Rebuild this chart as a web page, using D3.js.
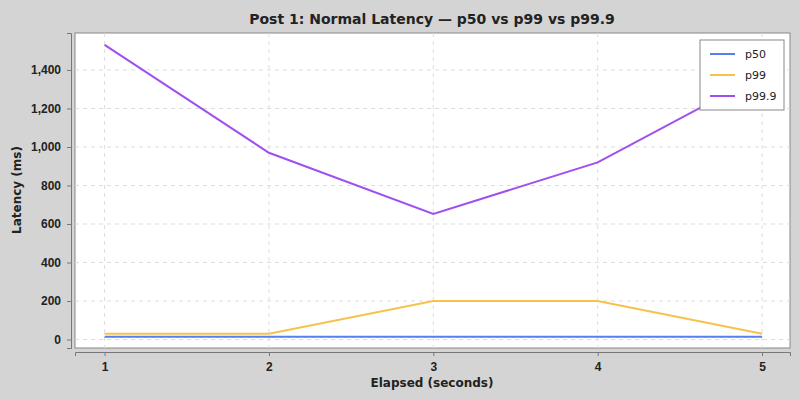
<!DOCTYPE html>
<html><head><meta charset="utf-8">
<script src="https://cdn.jsdelivr.net/npm/d3@7"></script>
<style>body{margin:0;background:#d4d4d4;font-family:"DejaVu Sans",sans-serif;}</style>
</head><body>
<svg width="800" height="400"></svg>
<script>
// data
var seconds = [1, 2, 3, 4, 5];
var p50 = [15, 15, 15, 15, 15];
var p99 = [30, 30, 200, 200, 30];
var p999 = [1530, 970, 652, 920, 1375];
var yTicks = [0, 200, 400, 600, 800, 1000, 1200, 1400];

var series = [
  {name: "p50", values: p50, color: "#5480ee"},
  {name: "p99", values: p99, color: "#f6c24e"},
  {name: "p99.9", values: p999, color: "#a04ff0"}
];

var svg = d3.select("svg");
var plotL = 75, plotR = 790, plotT = 33, plotB = 348;

var x = d3.scaleLinear().domain([0.82, 5.17]).range([plotL, plotR]);
var y = d3.scaleLinear().domain([-44, 1592]).range([plotB, plotT]);

svg.append("rect").attr("width", 800).attr("height", 400).attr("fill", "#d4d4d4");
svg.append("rect").attr("x", plotL).attr("y", plotT).attr("width", plotR - plotL).attr("height", plotB - plotT)
  .attr("fill", "#fff").attr("stroke", "#888");

// grid
svg.append("g").selectAll("line").data(yTicks).enter().append("line")
  .attr("x1", plotL).attr("x2", plotR).attr("y1", d => y(d)).attr("y2", d => y(d))
  .attr("stroke", "#ddd").attr("stroke-dasharray", "4,4");
svg.append("g").selectAll("line").data(seconds).enter().append("line")
  .attr("y1", plotT).attr("y2", plotB).attr("x1", d => x(d)).attr("x2", d => x(d))
  .attr("stroke", "#ddd").attr("stroke-dasharray", "4,4");

// axes
var yAxis = svg.append("g").attr("transform", "translate(71,0)")
  .call(d3.axisLeft(y).tickValues(yTicks).tickFormat(d3.format(",")).tickSize(4).tickPadding(6));
var xAxis = svg.append("g").attr("transform", "translate(0,352)")
  .call(d3.axisBottom(x).tickValues(seconds).tickFormat(d3.format("d")).tickSize(4).tickPadding(6));
[yAxis, xAxis].forEach(function(a) {
  a.selectAll("path,line").attr("stroke", "#777");
  a.selectAll("text").attr("font-size", 12).attr("font-weight", "bold").attr("fill", "#222");
});

// lines
var line = d3.line().x((d, i) => x(seconds[i])).y(d => y(d));
series.forEach(function(s) {
  svg.append("path").datum(s.values).attr("d", line)
    .attr("fill", "none").attr("stroke", s.color).attr("stroke-width", 2);
});

// titles
svg.append("text").attr("x", 432).attr("y", 24).attr("text-anchor", "middle")
  .attr("font-size", 14).attr("font-weight", "bold").attr("fill", "#222")
  .text("Post 1: Normal Latency \u2014 p50 vs p99 vs p99.9");
svg.append("text").attr("x", 432).attr("y", 387).attr("text-anchor", "middle")
  .attr("font-size", 12).attr("font-weight", "bold").attr("fill", "#222").text("Elapsed (seconds)");
svg.append("text").attr("transform", "translate(21,190) rotate(-90)").attr("text-anchor", "middle")
  .attr("font-size", 12).attr("font-weight", "bold").attr("fill", "#222").text("Latency (ms)");

// legend
var lg = svg.append("g").attr("transform", "translate(700,40)");
lg.append("rect").attr("width", 84).attr("height", 70).attr("fill", "#fff").attr("stroke", "#888");
series.forEach(function(s, i) {
  var yy = 14 + i * 21;
  lg.append("line").attr("x1", 10).attr("x2", 35).attr("y1", yy).attr("y2", yy)
    .attr("stroke", s.color).attr("stroke-width", 2);
  lg.append("text").attr("x", 45).attr("y", yy + 4).attr("font-size", 11).attr("fill", "#222").text(s.name);
});
</script>
</body></html>
